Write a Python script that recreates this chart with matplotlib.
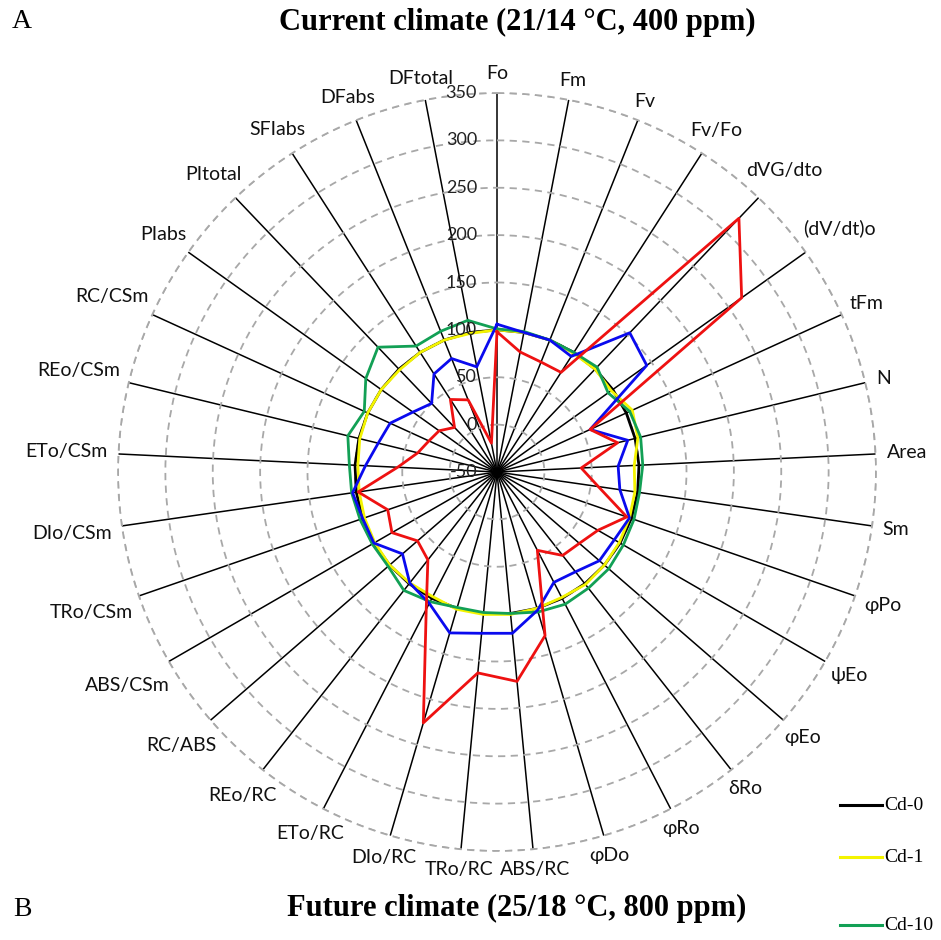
import numpy as np
import matplotlib
matplotlib.use('Agg')
import matplotlib.pyplot as plt
from matplotlib.transforms import offset_copy
from matplotlib.lines import Line2D

categories = ['Fo', 'Fm', 'Fv', 'Fv/Fo', 'dVG/dto', '(dV/dt)o', 'tFm', 'N', 'Area', 'Sm',
              'φPo', 'ψEo', 'φEo', 'δRo', 'φRo', 'φDo', 'ABS/RC', 'TRo/RC', 'DIo/RC',
              'ETo/RC', 'REo/RC', 'RC/ABS', 'ABS/CSm', 'TRo/CSm', 'DIo/CSm', 'ETo/CSm',
              'REo/CSm', 'RC/CSm', 'PIabs', 'PItotal', 'SFIabs', 'DFabs', 'DFtotal']

cd_0 = [100, 100, 100, 100, 100, 100, 100, 100, 100, 100, 100, 100, 100, 100, 100, 100, 100,
        100, 100, 100, 100, 100, 100, 100, 100, 100, 100, 100, 100, 100, 100, 100, 100]
cd_1 = [100, 100, 100, 99, 100, 98, 107, 103, 95, 97, 98, 99, 100, 101, 99, 100, 101,
        101, 101, 98, 99, 100, 99, 98, 97, 97, 99, 100, 100, 99, 100, 100, 99]
cd_10 = [101, 101, 100, 100, 103, 94, 104, 106, 104, 102, 103, 104, 106, 106, 107, 104, 100,
         99, 99, 104, 109, 102, 102, 103, 105, 106, 112, 104, 120, 132, 108, 110, 113]
cd_50 = [106, 100, 100, 95, 153, 144, 58, 92, 78, 81, 98, 93, 93, 84, 81, 102, 121,
         121, 127, 106, 99, 82, 100, 100, 104, 89, 79, 74, 59, 50, 73, 79, 63]
cd_100 = [98, 79, 75, 75, 320, 267, 58, 81, 39, 58, 95, 73, 65, 62, 43, 130, 172,
          163, 226, 113, 68, 61, 78, 72, 98, 55, 36, 29, 25, 15, 41, 32, -19]

series_names = ['Cd-0', 'Cd-1', 'Cd-10', 'Cd-50', 'Cd-100']
series_values = [cd_0, cd_1, cd_10, cd_50, cd_100]
series_colors = ['#000000', '#F4F400', '#12A055', '#0A0AEE', '#EE1111']

r_ticks = [-50, 0, 50, 100, 150, 200, 250, 300, 350]
r_min, r_max = -50, 350

W, H = 941, 940
fig = plt.figure(figsize=(W / 100, H / 100), dpi=100)
fig.patch.set_facecolor('white')

cx, cy, R = 497, 472, 379
ax = fig.add_axes([(cx - R) / W, (H - cy - R) / H, 2 * R / W, 2 * R / H], projection='polar')
ax.set_theta_zero_location('N')
ax.set_theta_direction(-1)
ax.set_ylim(r_min, r_max)
ax.spines['polar'].set_visible(False)
ax.set_facecolor('none')

n = len(categories)
theta = np.arange(n) * 2 * np.pi / n
ax.set_xticks(theta)
ax.set_xticklabels([])
ax.set_yticks(r_ticks)
ax.set_yticklabels([])
ax.xaxis.grid(True, color='black', lw=1.1, ls='-')
ax.yaxis.grid(True, color='#A8A8A8', lw=1.3, ls=(0, (4, 3)))
ax.tick_params(axis='both', length=0)

tt = np.linspace(0, 2 * np.pi, 400)
ax.plot(tt, np.full_like(tt, r_max), color='#A8A8A8', lw=1.3, ls=(0, (4, 3)), clip_on=False)

for name, vals, col in zip(series_names, series_values, series_colors):
    v = np.array(vals + [vals[0]], dtype=float)
    t = np.append(theta, theta[0])
    ax.plot(t, v, color=col, lw=2.0, label=name, zorder=5)

lab_font = ['Lato', 'DejaVu Sans']
for rv in r_ticks:
    tr = offset_copy(ax.transData, fig=fig, x=-20, y=0, units='dots')
    ax.text(0, rv, str(rv), transform=tr, ha='right', va='center', fontsize=13,
            family=lab_font, color='#222222', zorder=6)

# category labels: box placed just outside the spoke end
fig.canvas.draw()
renderer = fig.canvas.get_renderer()
gap = 11
for ang, lab in zip(theta, categories):
    s, c = np.sin(ang), np.cos(ang)
    txt = ax.text(ang, r_max, lab, ha='center', va='center', fontsize=14,
                  family=lab_font, color='#111111', clip_on=False)
    bb = txt.get_window_extent(renderer)
    w, h = bb.width, bb.height
    d = gap + np.hypot(w / 2 * s, h / 2 * c)
    txt.set_transform(offset_copy(ax.transData, fig=fig, x=d * s, y=d * c, units='dots'))

serif = 'Liberation Serif'
fig.text(22 / W, 1 - 22 / H, 'A', family=serif, fontsize=20, ha='center', va='center')
fig.text(517 / W, 1 - 22 / H, 'Current climate (21/14 °C, 400 ppm)', family=serif,
         fontweight='bold', fontsize=22, ha='center', va='center')
fig.text(22 / W, 1 - 910 / H, 'B', family=serif, fontsize=20, ha='center', va='center')
fig.text(517 / W, 1 - 908 / H, 'Future climate (25/18 °C, 800 ppm)', family=serif,
         fontweight='bold', fontsize=22, ha='center', va='center')

leg_y = [805, 857, 925]
for yy, name, col in zip(leg_y, series_names[:3], series_colors[:3]):
    fig.add_artist(Line2D([840 / W, 882 / W], [1 - yy / H, 1 - yy / H], color=col, lw=2.2,
                          transform=fig.transFigure))
    fig.text(884 / W, 1 - yy / H, name, family=serif, fontsize=14, ha='left', va='center')

fig.savefig('out.png', dpi=100, facecolor='white')
